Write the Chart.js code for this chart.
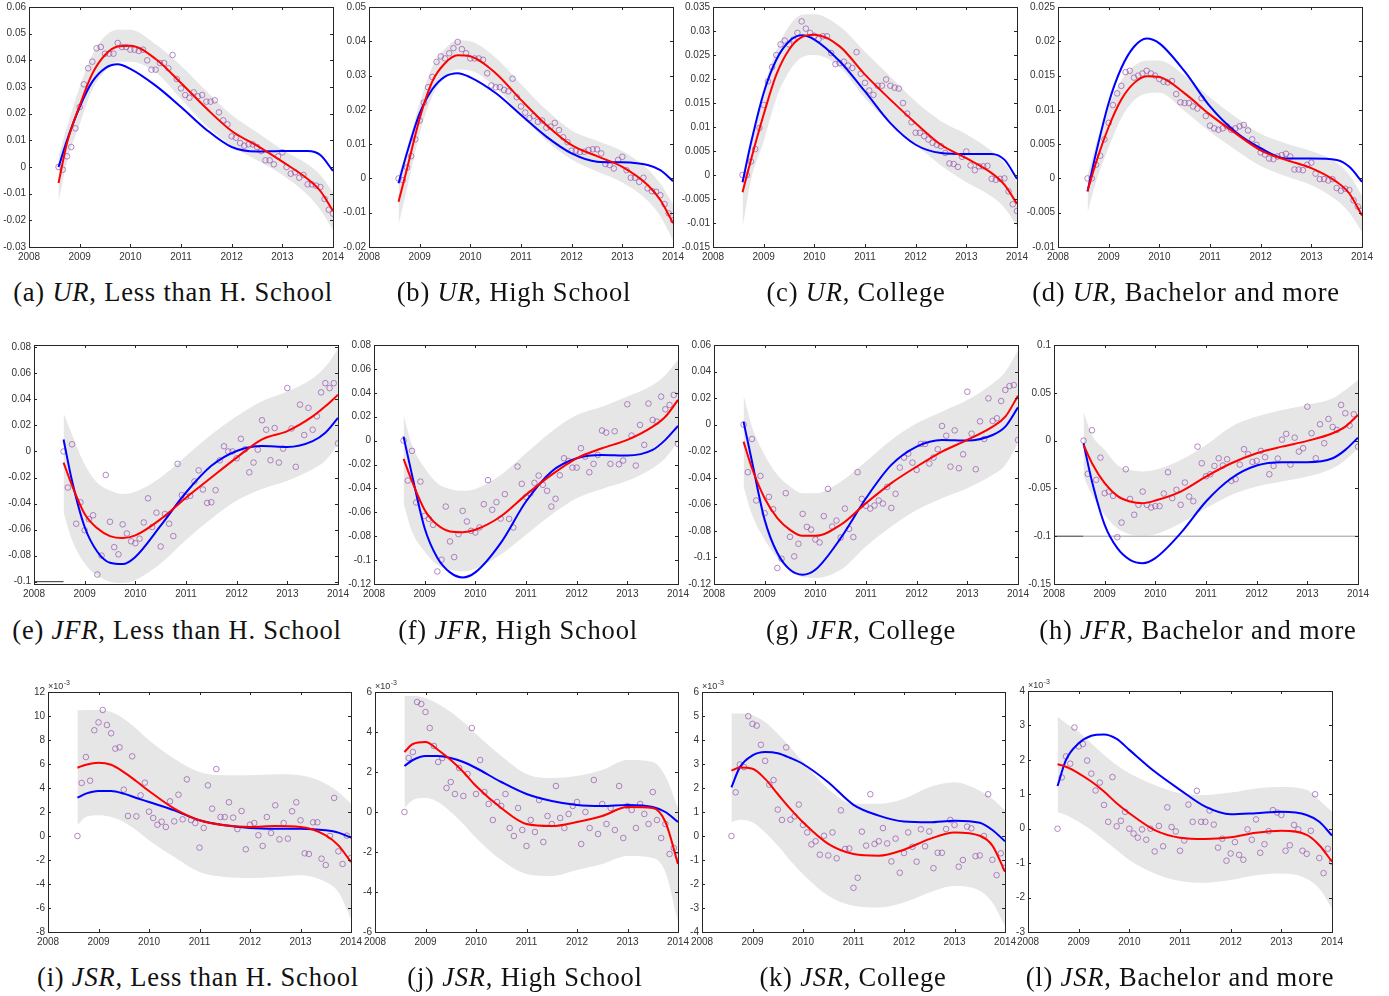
<!DOCTYPE html>
<html>
<head>
<meta charset="utf-8">
<script src="https://cdn.jsdelivr.net/npm/chart.js@4.4.1/dist/chart.umd.min.js"></script>
<style>
  body { margin: 0; background: #fff; width: 1389px; height: 996px; position: relative; overflow: hidden; }
  .panel { position: absolute; }
  .cap { position: absolute; font-family: 'Liberation Serif', serif; font-size: 26.5px; color: #111;
         white-space: nowrap; transform: translate(-50%, -50%); letter-spacing: 0.8px; }
</style>
</head>
<body>
<script>
// x grid used for the fitted curves and the confidence band
var CURVE_X = [2008.583, 2008.75, 2009, 2009.25, 2009.5, 2009.75, 2010, 2010.5, 2011, 2011.5, 2012, 2012.5, 2013, 2013.5, 2013.75, 2014];
var X_TICKS = ['2008', '2009', '2010', '2011', '2012', '2013', '2014'];

// ---- (a) UR, Less than H. School
var PTS_A = [0, -0.001, 0.004, 0.0075, 0.0145, 0.0225, 0.031, 0.037, 0.0395, 0.0445,
  0.045, 0.0425, 0.0425, 0.0425, 0.0465, 0.045, 0.045, 0.044, 0.044, 0.0435,
  0.044, 0.04, 0.0365, 0.0365, 0.039, 0.039, 0.037, 0.042, 0.033, 0.0295,
  0.027, 0.026, 0.028, 0.0265, 0.027, 0.0245, 0.0245, 0.025, 0.0205, 0.0175,
  0.016, 0.0115, 0.011, 0.009, 0.008, 0.0085, 0.0085, 0.0075, 0.006, 0.0025,
  0.0025, 0.001, 0.004, 0.0055, 0, -0.0025, -0.002, -0.004, -0.003, -0.0065,
  -0.0065, -0.007, -0.0075, -0.012, -0.016, -0.0175];
var RED_A  = [-0.006, 0.009, 0.023, 0.035, 0.042, 0.0452, 0.0455, 0.0405, 0.0315, 0.022, 0.0135, 0.008, 0.002, -0.0045, -0.009, -0.0165];
var BLUE_A = [0, 0.01, 0.0225, 0.032, 0.037, 0.0385, 0.0368, 0.0305, 0.0225, 0.014, 0.0075, 0.0058, 0.006, 0.006, 0.0045, -0.0015];
var HI_A   = [0.004, 0.015, 0.030, 0.042, 0.049, 0.0515, 0.0515, 0.046, 0.038, 0.0285, 0.0195, 0.013, 0.0065, 0.001, -0.003, -0.0095];
var LO_A   = [-0.013, 0.002, 0.016, 0.029, 0.036, 0.0395, 0.0395, 0.0355, 0.0255, 0.0155, 0.008, 0.0025, -0.003, -0.0105, -0.016, -0.0235];
var YT_A   = ['-0.03', '-0.02', '-0.01', '0', '0.01', '0.02', '0.03', '0.04', '0.05', '0.06'];

// ---- (b) UR, High School
var PTS_B = [0, -0.0005, 0.0032, 0.0065, 0.0114, 0.0169, 0.0221, 0.0266, 0.0296, 0.034,
  0.0356, 0.035, 0.0365, 0.038, 0.0398, 0.0377, 0.0365, 0.035, 0.035, 0.035,
  0.0346, 0.0307, 0.0271, 0.0266, 0.0266, 0.0258, 0.0254, 0.0291, 0.0237, 0.021,
  0.0192, 0.0176, 0.0182, 0.0165, 0.0169, 0.0148, 0.0151, 0.0162, 0.0141, 0.012,
  0.0106, 0.0081, 0.0081, 0.0077, 0.0078, 0.0083, 0.0085, 0.0085, 0.0073, 0.0042,
  0.0039, 0.0029, 0.0054, 0.0063, 0.0024, 0.0002, 0.0002, -0.001, 0.0002, -0.0029,
  -0.0037, -0.0039, -0.0049, -0.0075, -0.0102, -0.0122];
var RED_B  = [-0.0068, 0.0028, 0.0175, 0.0283, 0.0336, 0.0359, 0.0356, 0.0307, 0.0229, 0.0156, 0.0097, 0.0065, 0.0034, -0.0019, -0.0063, -0.013];
var BLUE_B = [-0.0014, 0.0075, 0.019, 0.026, 0.0297, 0.0307, 0.0295, 0.0249, 0.0185, 0.0122, 0.0073, 0.0049, 0.0047, 0.0039, 0.0024, -0.0008];
var HI_B   = [0.001, 0.0085, 0.022, 0.0325, 0.0378, 0.0403, 0.040, 0.0352, 0.0275, 0.02, 0.014, 0.011, 0.008, 0.0027, -0.0015, -0.0075];
var LO_B   = [-0.0135, -0.003, 0.013, 0.024, 0.0295, 0.0318, 0.0315, 0.0265, 0.0185, 0.011, 0.0055, 0.002, -0.0012, -0.0065, -0.011, -0.018];
var YT_B   = ['-0.02', '-0.01', '0', '0.01', '0.02', '0.03', '0.04', '0.05'];

// ---- (c) UR, College
var PTS_C = [0, 0, 0.0028, 0.0054, 0.0098, 0.0146, 0.0195, 0.0225, 0.025, 0.0272,
  0.028, 0.0272, 0.0282, 0.0296, 0.032, 0.0305, 0.0296, 0.029, 0.0283, 0.0289,
  0.0289, 0.0254, 0.0231, 0.0233, 0.0236, 0.0228, 0.0223, 0.0256, 0.0211, 0.0192,
  0.0176, 0.0167, 0.0186, 0.0186, 0.0199, 0.0186, 0.0182, 0.018, 0.015, 0.0128,
  0.011, 0.0088, 0.0088, 0.0081, 0.0074, 0.0067, 0.0063, 0.006, 0.0046, 0.0024,
  0.0023, 0.0017, 0.0038, 0.0049, 0.002, 0.001, 0.0018, 0.0018, 0.0019, -0.0008,
  -0.001, -0.0008, -0.0007, -0.0034, -0.0061, -0.0075];
var RED_C  = [-0.0036, 0.0032, 0.0126, 0.0209, 0.0261, 0.0287, 0.0292, 0.0268, 0.0209, 0.0157, 0.0108, 0.0063, 0.0035, 0.0004, -0.002, -0.006];
var BLUE_C = [-0.0015, 0.0067, 0.0171, 0.024, 0.0278, 0.0291, 0.0282, 0.0237, 0.0174, 0.0108, 0.0063, 0.0046, 0.0044, 0.0044, 0.0032, -0.0008];
var HI_C   = [-0.0005, 0.0075, 0.018, 0.026, 0.031, 0.0334, 0.0335, 0.031, 0.0257, 0.0205, 0.0153, 0.0112, 0.0085, 0.005, 0.0025, -0.0015];
var LO_C   = [-0.011, -0.001, 0.007, 0.016, 0.0215, 0.0245, 0.025, 0.0225, 0.016, 0.0108, 0.0063, 0.002, -0.0015, -0.0045, -0.0068, -0.0105];
var YT_C   = ['-0.015', '-0.01', '-0.005', '0', '0.005', '0.01', '0.015', '0.02', '0.025', '0.03', '0.035'];

// ---- (d) UR, Bachelor and more
var PTS_D = [0, 0, 0.002, 0.0033, 0.0057, 0.0081, 0.0107, 0.0124, 0.0135, 0.0155,
  0.0157, 0.0147, 0.015, 0.0153, 0.0157, 0.0153, 0.015, 0.0145, 0.0141, 0.014,
  0.0142, 0.0123, 0.0111, 0.011, 0.011, 0.0105, 0.0102, 0.0117, 0.0091, 0.0077,
  0.0073, 0.0071, 0.0073, 0.0076, 0.0071, 0.0073, 0.0076, 0.0078, 0.007, 0.0057,
  0.0049, 0.0038, 0.0035, 0.0029, 0.0028, 0.0032, 0.0034, 0.0036, 0.0032, 0.0013,
  0.0013, 0.0012, 0.002, 0.0023, 0.0007, -0.0001, -0.0001, -0.0003, -0.0001, -0.0014,
  -0.0018, -0.0015, -0.0017, -0.0032, -0.0041, -0.0047];
var RED_D  = [-0.0018, 0.0023, 0.0075, 0.0115, 0.0139, 0.0149, 0.0148, 0.0124, 0.0093, 0.0066, 0.0041, 0.0027, 0.0015, -0.0005, -0.0022, -0.0054];
var BLUE_D = [-0.0019, 0.0037, 0.011, 0.0161, 0.0192, 0.0204, 0.0197, 0.0156, 0.0105, 0.0068, 0.0044, 0.0029, 0.0029, 0.0027, 0.0017, -0.0005];
var HI_D   = [0.0005, 0.005, 0.0105, 0.0143, 0.0164, 0.0172, 0.0172, 0.015, 0.0118, 0.009, 0.0065, 0.0051, 0.004, 0.0023, 0.0005, -0.0025];
var LO_D   = [-0.005, -0.0005, 0.0045, 0.0088, 0.0114, 0.0124, 0.0125, 0.0098, 0.0068, 0.0042, 0.0018, 0.0003, -0.001, -0.0032, -0.005, -0.0078];
var YT_D   = ['-0.01', '-0.005', '0', '0.005', '0.01', '0.015', '0.02', '0.025'];

// ---- (e) JFR, Less than H. School
var PTS_E = [0, -0.0277, 0.0055, -0.0555, -0.039, -0.0605, -0.052, -0.049, -0.0945, -0.08,
  -0.018, -0.054, -0.0735, -0.079, -0.056, -0.063, -0.069, -0.0705, -0.067, -0.0545,
  -0.036, -0.058, -0.047, -0.073, -0.048, -0.0555, -0.065, -0.0095, -0.0335, -0.035,
  -0.034, -0.023, -0.0145, -0.0292, -0.0395, -0.039, -0.0297, -0.0068, 0.004, 0,
  0, -0.0052, 0.0097, 0.0017, -0.016, -0.0085, 0.0014, 0.024, 0.0167, -0.0067,
  0.018, -0.0085, 0.0022, 0.0487, 0.0177, -0.0118, 0.036, 0.0126, 0.0335, 0.0167,
  0.027, 0.0454, 0.0525, 0.0487, 0.0525, 0.0062];
var RED_E  = [-0.0085, -0.026, -0.048, -0.059, -0.065, -0.0665, -0.0645, -0.052, -0.0355, -0.02, -0.0047, 0.0093, 0.0157, 0.027, 0.0347, 0.0436];
var BLUE_E = [0.0092, -0.0225, -0.058, -0.077, -0.0855, -0.0865, -0.081, -0.057, -0.0315, -0.011, 0.0004, 0.0042, 0.0035, 0.008, 0.0144, 0.0258];
var HI_E   = [0.0296, 0.013, -0.01, -0.024, -0.030, -0.0327, -0.031, -0.02, -0.0035, 0.013, 0.027, 0.0385, 0.046, 0.056, 0.065, 0.079];
var LO_E   = [-0.0466, -0.068, -0.086, -0.0955, -0.1, -0.101, -0.0987, -0.086, -0.068, -0.0517, -0.0377, -0.0288, -0.0225, -0.0136, -0.0072, 0.0055];
var YT_E   = ['-0.1', '-0.08', '-0.06', '-0.04', '-0.02', '0', '0.02', '0.04', '0.06', '0.08'];

// ---- (f) JFR, High School
var PTS_F = [0, -0.0334, -0.0086, -0.0518, -0.0343, -0.063, -0.0655, -0.0705, -0.1095, -0.0997,
  -0.0552, -0.0844, -0.0975, -0.0783, -0.0588, -0.0677, -0.0755, -0.0769, -0.0727, -0.0532,
  -0.0331, -0.0579, -0.0515, -0.0652, -0.0448, -0.0655, -0.0727, -0.0217, -0.0362, -0.0471,
  -0.0443, -0.0354, -0.0293, -0.037, -0.042, -0.0552, -0.0487, -0.029, -0.0148, -0.017,
  -0.0226, -0.0226, -0.0064, -0.0134, -0.0265, -0.0195, -0.012, 0.0084, 0.0067, -0.0195,
  0.0078, -0.0198, -0.0167, 0.0304, 0.0042, -0.0209, 0.0131, -0.0036, 0.031, 0.0173,
  0.0159, 0.0368, 0.0262, 0.0298, 0.0382, -0.0028];
var RED_F  = [-0.0153, -0.034, -0.058, -0.0705, -0.076, -0.0766, -0.0746, -0.0635, -0.0454, -0.0287, -0.0148, -0.0064, 0.0006, 0.0117, 0.02, 0.034];
var BLUE_F = [0.0033, -0.0287, -0.0733, -0.098, -0.1103, -0.1145, -0.1103, -0.0858, -0.051, -0.026, -0.0148, -0.012, -0.0125, -0.0078, 0.0006, 0.0123];
var HI_F   = [0.0214, -0.0036, -0.023, -0.0357, -0.0404, -0.042, -0.0404, -0.0287, -0.0106, 0.0075, 0.0214, 0.0284, 0.0368, 0.0465, 0.055, 0.0675];
var LO_F   = [-0.0524, -0.076, -0.0927, -0.1039, -0.108, -0.1094, -0.1072, -0.0955, -0.0788, -0.0621, -0.0482, -0.0404, -0.0337, -0.0231, -0.0148, -0.0008];
var YT_F   = ['-0.12', '-0.1', '-0.08', '-0.06', '-0.04', '-0.02', '0', '0.02', '0.04', '0.06', '0.08'];

// ---- (g) JFR, College
var PTS_G = [0, -0.0358, -0.0108, -0.0571, -0.0386, -0.0667, -0.0544, -0.0637, -0.108, -0.101,
  -0.0516, -0.0845, -0.0992, -0.0897, -0.0672, -0.077, -0.079, -0.0865, -0.0887, -0.0689,
  -0.0484, -0.0767, -0.0722, -0.085, -0.0632, -0.0785, -0.0847, -0.0358, -0.0559, -0.0612,
  -0.0632, -0.0609, -0.0571, -0.0594, -0.0469, -0.0627, -0.0521, -0.0323, -0.0248, -0.0218,
  -0.0286, -0.0341, -0.0145, -0.0145, -0.0293, -0.0248, -0.0185, -0.001, -0.0083, -0.0316,
  -0.0043, -0.0328, -0.0223, 0.0248, -0.0068, -0.0336, 0.0025, -0.0108, 0.0198, 0.0028,
  0.0048, 0.0178, 0.0261, 0.0291, 0.0298, -0.0115];
var RED_G  = [-0.0128, -0.0328, -0.0554, -0.0704, -0.0792, -0.0837, -0.0837, -0.0754, -0.0591, -0.044, -0.0316, -0.0203, -0.0115, -0.0015, 0.006, 0.0218];
var BLUE_G = [0.0023, -0.0278, -0.0717, -0.0967, -0.1093, -0.113, -0.1093, -0.0855, -0.0554, -0.0303, -0.0165, -0.0115, -0.012, -0.0078, -0.0015, 0.013];
var HI_G   = [0.0223, -0.0015, -0.0228, -0.0378, -0.0466, -0.0516, -0.0516, -0.0429, -0.0278, -0.0115, 0.001, 0.0098, 0.0185, 0.031, 0.0398, 0.0561];
var LO_G   = [-0.0466, -0.0679, -0.0867, -0.1005, -0.1093, -0.115, -0.1155, -0.1093, -0.0917, -0.0767, -0.0642, -0.0554, -0.0479, -0.0378, -0.0303, -0.014];
var YT_G   = ['-0.12', '-0.1', '-0.08', '-0.06', '-0.04', '-0.02', '0', '0.02', '0.04', '0.06'];

// ---- (h) JFR, Bachelor and more
var PTS_H = [0, -0.0348, 0.0108, -0.0411, -0.0178, -0.055, -0.0533, -0.0578, -0.101, -0.0857,
  -0.03, -0.061, -0.0776, -0.0672, -0.0533, -0.0672, -0.07, -0.0686, -0.0686, -0.0554,
  -0.0331, -0.0602, -0.0515, -0.0672, -0.0439, -0.0585, -0.0634, -0.0063, -0.0237, -0.0373,
  -0.0352, -0.0265, -0.0185, -0.0261, -0.0195, -0.0421, -0.0404, -0.0251, -0.009, -0.0143,
  -0.0223, -0.0212, -0.0108, -0.0174, -0.0352, -0.0265, -0.0188, 0.001, 0.007, -0.0251,
  0.0031, -0.0115, -0.008, 0.0355, 0.0077, -0.0185, 0.0171, -0.0028, 0.0226, 0.0143,
  0.0111, 0.0373, 0.0286, 0.0157, 0.0275, -0.0063];
var RED_H  = [-0.0045, -0.0237, -0.0446, -0.0578, -0.0637, -0.0655, -0.0627, -0.0533, -0.0376, -0.0237, -0.0132, -0.0063, -0.0003, 0.0077, 0.0146, 0.0268];
var BLUE_H = [-0.0028, -0.0428, -0.0881, -0.1125, -0.1247, -0.1282, -0.1229, -0.0968, -0.0637, -0.0394, -0.0261, -0.0226, -0.0226, -0.0185, -0.0097, 0.0031];
var HI_H   = [0.0303, 0.0059, -0.0097, -0.0254, -0.0306, -0.0324, -0.0306, -0.0202, -0.0045, 0.0146, 0.0251, 0.032, 0.0373, 0.0442, 0.0529, 0.0634];
var LO_H   = [-0.0376, -0.0568, -0.0777, -0.0916, -0.0979, -0.0992, -0.0979, -0.0864, -0.0707, -0.0568, -0.048, -0.0428, -0.0376, -0.0289, -0.0202, -0.008];
var YT_H   = ['-0.15', '-0.1', '-0.05', '0', '0.05', '0.1'];

// ---- (i) JSR, Less than H. School (x 10^-3)
var PTS_I = [0, 4.42, 6.58, 4.61, 8.81, 9.47, 10.5, 9.25, 8.56, 7.28,
  7.39, 3.86, 1.67, 6.64, 1.64, 3.39, 4.44, 2.03, 1.5, 0.94,
  1.19, 0.75, 2.89, 1.22, 3.44, 1.39, 4.72, 1.33, 1.08, -0.97,
  0.67, 4.22, 2.28, 5.58, 1.58, 1.58, 2.81, 1.53, 0.58, 2.08,
  -1.11, 0.94, 1.08, 0.06, -0.83, 1.58, 0.25, 2.56, -0.28, 1.08,
  -0.22, 2.06, 2.81, 1.31, -1.44, -1.5, 1.14, 1.14, -1.89, -2.42,
  0, 3.17, -1.28, -2.33, 0.03, -1.83];
var RED_I  = [5.69, 5.94, 6.11, 5.94, 5.33, 4.56, 3.75, 2.28, 1.31, 0.89, 0.75, 0.83, 0.75, 0.06, -0.78, -2.17];
var BLUE_I = [3.19, 3.53, 3.75, 3.75, 3.53, 3.17, 2.83, 2.14, 1.31, 0.89, 0.67, 0.61, 0.61, 0.47, 0.28, -0.14];
var HI_I   = [10.47, 10.5, 10.5, 10.33, 9.78, 8.94, 7.97, 6.44, 5.33, 5.06, 5.06, 5.14, 5.06, 4.36, 3.67, 2.69];
var LO_I   = [0.89, 1.58, 1.72, 1.58, 1.17, 0.47, -0.36, -1.75, -3.0, -3.42, -3.5, -3.42, -3.28, -3.83, -4.67, -6.89];
var YT_I   = ['-8', '-6', '-4', '-2', '0', '2', '4', '6', '8', '10', '12'];

// ---- (j) JSR, High School (x 10^-3)
var PTS_J = [0, 2.7, 3.0, 5.5, 5.4, 5.0, 4.2, 3.3, 2.5, 2.7,
  1.2, 1.5, 0.9, 2.2, 0.8, 1.9, 4.2, 0.9, 2.6, 1.0,
  0.4, -0.4, 0.5, 0.3, 0.9, -0.8, -1.2, 0.2, -0.9, -1.7,
  -0.4, -1.0, 0.6, -1.5, -0.2, -0.6, 1.3, -0.3, -0.8, -0.1,
  0.3, 0.5, -1.6, 0.0, -0.8, 1.6, -1.1, 0.4, -0.6, 0.2,
  -0.9, 1.3, -1.3, 0.3, 0.1, -0.8, 0.4, -0.1, -0.6, 1.0,
  -0.4, -1.3, -0.6, -2.1, -1.8, -2.2];
var RED_J  = [3.0, 3.4, 3.5, 3.1, 2.6, 2.0, 1.3, 0.2, -0.6, -0.7, -0.5, -0.2, 0.25, 0.2, -0.5, -2.6];
var BLUE_J = [2.3, 2.6, 2.8, 2.8, 2.7, 2.5, 2.2, 1.5, 0.9, 0.55, 0.35, 0.3, 0.35, 0.25, 0.0, -0.5];
var HI_J   = [5.8, 5.8, 5.7, 5.4, 5.0, 4.5, 3.9, 2.8, 1.9, 1.7, 1.8, 2.1, 2.6, 2.5, 1.8, 0.2];
var LO_J   = [0.2, 0.6, 0.7, 0.5, 0.0, -0.6, -1.3, -2.4, -3.1, -3.2, -2.9, -2.6, -2.2, -2.3, -3.0, -5.5];
var YT_J   = ['-6', '-4', '-2', '0', '2', '4', '6'];

// ---- (k) JSR, College (x 10^-3)
var PTS_K = [0, 1.82, 2.98, 2.87, 4.99, 4.67, 4.6, 3.8, 3.13, 2.14,
  2.33, 1.1, 0.67, 3.69, 0.68, 0.82, 1.31, 0.46, 0.15, -0.35,
  -0.22, -0.78, 0.01, -0.81, 0.15, -0.93, 1.07, -0.54, -0.52, -2.16,
  -1.74, 0.18, -0.4, 1.74, -0.33, -0.22, 0.33, -0.31, -1.06, -0.11,
  -1.53, -0.71, 0.15, -0.45, -1.07, 0.28, -0.43, 0.19, -1.34, -0.7,
  -0.7, 0.29, 0.67, 0.46, -1.28, -1.0, 0.39, 0.32, -0.84, -0.81,
  0, 1.74, -0.99, -1.63, -0.72, -1.32];
var RED_K  = [2.73, 2.85, 2.8, 2.38, 1.75, 1.13, 0.57, -0.33, -0.75, -0.82, -0.57, -0.13, 0.15, 0.01, -0.4, -1.49];
var BLUE_K = [2.03, 2.87, 3.36, 3.5, 3.45, 3.25, 3.0, 2.24, 1.3, 0.85, 0.6, 0.57, 0.64, 0.55, 0.25, -0.22];
var HI_K   = [5.1, 5.1, 5.03, 4.75, 4.26, 3.7, 3.08, 1.96, 1.34, 1.34, 1.55, 2.03, 2.24, 1.89, 1.55, 1.06];
var LO_K   = [0.57, 0.68, 0.57, 0.15, -0.4, -1.03, -1.59, -2.49, -2.91, -2.98, -2.77, -2.35, -2.08, -2.28, -2.77, -3.75];
var YT_K   = ['-4', '-3', '-2', '-1', '0', '1', '2', '3', '4', '5', '6'];

// ---- (l) JSR, Bachelor and more (x 10^-3)
var PTS_L = [0, 1.49, 2.1, 1.89, 2.94, 2.39, 2.46, 1.98, 1.6, 1.11,
  1.34, 0.69, 0.2, 1.5, 0.07, 0.23, 0.49, 0, -0.14, -0.26,
  -0.02, -0.32, 0, -0.66, 0.08, -0.51, 0.62, 0.05, -0.08, -0.64,
  -0.34, 0.7, 0.2, 1.1, 0.2, 0.2, 0.53, 0.12, -0.55, -0.29,
  -0.93, -0.72, -0.39, -0.76, -0.9, -0.02, -0.32, 0.27, -0.7, -0.45,
  -0.07, 0.54, 0.47, 0.4, -0.64, -0.48, 0.11, -0.02, -0.64, -0.73,
  -0.06, 1.0, -0.85, -1.29, -0.58, -0.96];
var RED_L  = [1.87, 1.8, 1.61, 1.37, 1.08, 0.74, 0.45, -0.04, -0.26, -0.3, -0.25, -0.12, -0.06, -0.18, -0.48, -0.96];
var BLUE_L = [1.24, 2.0, 2.48, 2.7, 2.74, 2.61, 2.29, 1.66, 1.13, 0.64, 0.42, 0.45, 0.49, 0.4, 0.2, -0.2];
var HI_L   = [3.26, 3.06, 2.82, 2.48, 2.14, 1.85, 1.61, 1.27, 1.03, 0.98, 1.05, 1.17, 1.21, 1.13, 0.83, 0.49];
var LO_L   = [0.48, 0.4, 0.2, -0.04, -0.33, -0.62, -0.91, -1.3, -1.52, -1.57, -1.49, -1.35, -1.3, -1.45, -1.74, -2.32];
var YT_L   = ['-3', '-2', '-1', '0', '1', '2', '3', '4'];

var CAP_TAG   = ['(a)', '(b)', '(c)', '(d)', '(e)', '(f)', '(g)', '(h)', '(i)', '(j)', '(k)', '(l)'];
var CAP_VAR   = ['UR', 'JFR', 'JSR'];
var CAP_GROUP = ['Less than H. School', 'High School', 'College', 'Bachelor and more'];

var PANELS = [
  { pts: PTS_A, red: RED_A, blue: BLUE_A, hi: HI_A, lo: LO_A, yt: YT_A, ymin: -0.03, ymax: 0.06 },
  { pts: PTS_B, red: RED_B, blue: BLUE_B, hi: HI_B, lo: LO_B, yt: YT_B, ymin: -0.02, ymax: 0.05 },
  { pts: PTS_C, red: RED_C, blue: BLUE_C, hi: HI_C, lo: LO_C, yt: YT_C, ymin: -0.015, ymax: 0.035 },
  { pts: PTS_D, red: RED_D, blue: BLUE_D, hi: HI_D, lo: LO_D, yt: YT_D, ymin: -0.01, ymax: 0.025 },
  { pts: PTS_E, red: RED_E, blue: BLUE_E, hi: HI_E, lo: LO_E, yt: YT_E, ymin: -0.1018, ymax: 0.0818, base: -0.1 },
  { pts: PTS_F, red: RED_F, blue: BLUE_F, hi: HI_F, lo: LO_F, yt: YT_F, ymin: -0.12, ymax: 0.08 },
  { pts: PTS_G, red: RED_G, blue: BLUE_G, hi: HI_G, lo: LO_G, yt: YT_G, ymin: -0.12, ymax: 0.06 },
  { pts: PTS_H, red: RED_H, blue: BLUE_H, hi: HI_H, lo: LO_H, yt: YT_H, ymin: -0.15, ymax: 0.1, base: -0.1, baseFull: true },
  { pts: PTS_I, red: RED_I, blue: BLUE_I, hi: HI_I, lo: LO_I, yt: YT_I, ymin: -8, ymax: 12, expo: true },
  { pts: PTS_J, red: RED_J, blue: BLUE_J, hi: HI_J, lo: LO_J, yt: YT_J, ymin: -6, ymax: 6, expo: true },
  { pts: PTS_K, red: RED_K, blue: BLUE_K, hi: HI_K, lo: LO_K, yt: YT_K, ymin: -4, ymax: 6, expo: true },
  { pts: PTS_L, red: RED_L, blue: BLUE_L, hi: HI_L, lo: LO_L, yt: YT_L, ymin: -3, ymax: 4, expo: true }
];

// page layout: plot box [left, top, right, bottom] and caption centre
var PLOT_BOX = [
  [29, 7, 333, 247], [369, 7, 673, 247], [713, 7, 1017, 247], [1058, 7, 1362, 247],
  [34, 345, 338, 584], [374, 345, 678, 584], [714, 345, 1018, 584], [1054, 345, 1358, 584],
  [48, 692, 351, 932], [375, 692, 678, 932], [702, 692, 1005, 932], [1028, 691, 1332, 932]
];
var CAP_POS = [
  [173, 292], [514, 292], [856, 292], [1186, 292],
  [177, 630], [518, 630], [861, 630], [1198, 630],
  [198, 977], [525, 977], [853, 977], [1180, 977]
];

var PAD_L = 48, PAD_R = 18, PAD_T = 16, PAD_B = 24;
var TICK_FONT = { family: 'Liberation Sans', size: 10 };

// monthly observations, Aug 2008 onwards
function monthX(i) { return 2008 + (7 + i) / 12; }

function xy(xs, ys) {
  return ys.map(function(v, i) { return { x: xs[i], y: v }; });
}

// MATLAB style box with inward ticks on all four sides
var boxPlugin = {
  id: 'matlabBox',
  afterDraw: function(chart, args, opts) {
    var ctx = chart.ctx, a = chart.chartArea;
    var xs = chart.scales.x, ys = chart.scales.y;
    ctx.save();
    ctx.strokeStyle = '#262626';
    ctx.lineWidth = 1;
    ctx.strokeRect(Math.round(a.left) + 0.5, Math.round(a.top) + 0.5, Math.round(a.right - a.left), Math.round(a.bottom - a.top));
    ctx.beginPath();
    xs.ticks.forEach(function(t) {
      var px = Math.round(xs.getPixelForValue(t.value)) + 0.5;
      ctx.moveTo(px, a.bottom); ctx.lineTo(px, a.bottom - 3);
      ctx.moveTo(px, a.top); ctx.lineTo(px, a.top + 3);
    });
    ys.ticks.forEach(function(t) {
      var py = Math.round(ys.getPixelForValue(t.value)) + 0.5;
      ctx.moveTo(a.left, py); ctx.lineTo(a.left + 3, py);
      ctx.moveTo(a.right, py); ctx.lineTo(a.right - 3, py);
    });
    ctx.stroke();
    if (opts.expo) {
      ctx.fillStyle = '#333';
      ctx.textBaseline = 'alphabetic';
      ctx.font = '9px "Liberation Sans"';
      ctx.fillText('\u00d710', a.left, a.top - 3);
      var w = ctx.measureText('\u00d710').width;
      ctx.font = '7px "Liberation Sans"';
      ctx.fillText('-3', a.left + w + 0.5, a.top - 7);
    }
    ctx.restore();
  }
};

function makePanel(p, k) {
  var box = PLOT_BOX[k];
  var W = box[2] - box[0] + PAD_L + PAD_R;
  var H = box[3] - box[1] + PAD_T + PAD_B;

  var div = document.createElement('div');
  div.className = 'panel';
  div.style.left = (box[0] - PAD_L) + 'px';
  div.style.top = (box[1] - PAD_T) + 'px';
  var canvas = document.createElement('canvas');
  canvas.width = W; canvas.height = H;
  canvas.style.width = W + 'px'; canvas.style.height = H + 'px';
  div.appendChild(canvas);
  document.body.appendChild(div);

  var monthsX = p.pts.map(function(v, i) { return monthX(i); });
  var lineBase = { showLine: true, pointRadius: 0, cubicInterpolationMode: 'monotone', fill: false };

  var datasets = [
    Object.assign({ data: xy(CURVE_X, p.red), borderColor: '#ff0000', borderWidth: 2 }, lineBase),
    Object.assign({ data: xy(CURVE_X, p.blue), borderColor: '#0000ff', borderWidth: 2 }, lineBase),
    { data: xy(monthsX, p.pts), showLine: false, pointRadius: 2.8, pointBorderWidth: 0.8,
      pointBorderColor: 'rgba(145,80,170,0.85)', pointBackgroundColor: 'rgba(0,0,0,0)' }
  ];
  if (p.baseFull) {
    datasets.push(Object.assign({}, lineBase, { data: [{ x: 2008.583, y: p.base }, { x: 2014, y: p.base }],
      borderColor: '#9a9a9a', borderWidth: 1, cubicInterpolationMode: 'default' }));
  }
  if (p.base !== undefined) {
    datasets.push(Object.assign({}, lineBase, { data: [{ x: 2008, y: p.base }, { x: 2008.583, y: p.base }],
      borderColor: '#333333', borderWidth: 1, cubicInterpolationMode: 'default' }));
  }
  datasets.push(Object.assign({}, lineBase, { data: xy(CURVE_X, p.hi), borderColor: 'rgba(0,0,0,0)',
    borderWidth: 0, fill: '+1', backgroundColor: '#e6e6e6' }));
  datasets.push(Object.assign({}, lineBase, { data: xy(CURVE_X, p.lo), borderColor: 'rgba(0,0,0,0)', borderWidth: 0 }));

  new Chart(canvas, {
    type: 'scatter',
    data: { datasets: datasets },
    options: {
      responsive: false,
      animation: false,
      events: [],
      layout: { padding: { left: 0, top: PAD_T, right: PAD_R, bottom: 0 } },
      plugins: { legend: { display: false }, tooltip: { enabled: false }, matlabBox: { expo: !!p.expo } },
      scales: {
        x: {
          type: 'linear', min: 2008, max: 2014,
          afterBuildTicks: function(s) { s.ticks = X_TICKS.map(function(t) { return { value: parseFloat(t) }; }); },
          afterFit: function(s) { s.height = PAD_B; },
          grid: { display: false, drawTicks: false }, border: { display: false },
          ticks: { padding: 4, color: '#333', font: TICK_FONT, maxRotation: 0, autoSkip: false,
                   callback: function(v, i) { return X_TICKS[i]; } }
        },
        y: {
          type: 'linear', min: p.ymin, max: p.ymax,
          afterBuildTicks: function(s) { s.ticks = p.yt.map(function(t) { return { value: parseFloat(t) }; }); },
          afterFit: function(s) { s.width = PAD_L; },
          grid: { display: false, drawTicks: false }, border: { display: false },
          ticks: { padding: 3, color: '#333', font: TICK_FONT, autoSkip: false,
                   callback: function(v, i) { return p.yt[i]; } }
        }
      }
    },
    plugins: [boxPlugin]
  });

  var cap = document.createElement('div');
  cap.className = 'cap';
  cap.style.left = CAP_POS[k][0] + 'px';
  cap.style.top = CAP_POS[k][1] + 'px';
  cap.innerHTML = CAP_TAG[k] + ' <i>' + CAP_VAR[Math.floor(k / 4)] + '</i>, ' + CAP_GROUP[k % 4];
  document.body.appendChild(cap);
}

PANELS.forEach(makePanel);
</script>
</body>
</html>
